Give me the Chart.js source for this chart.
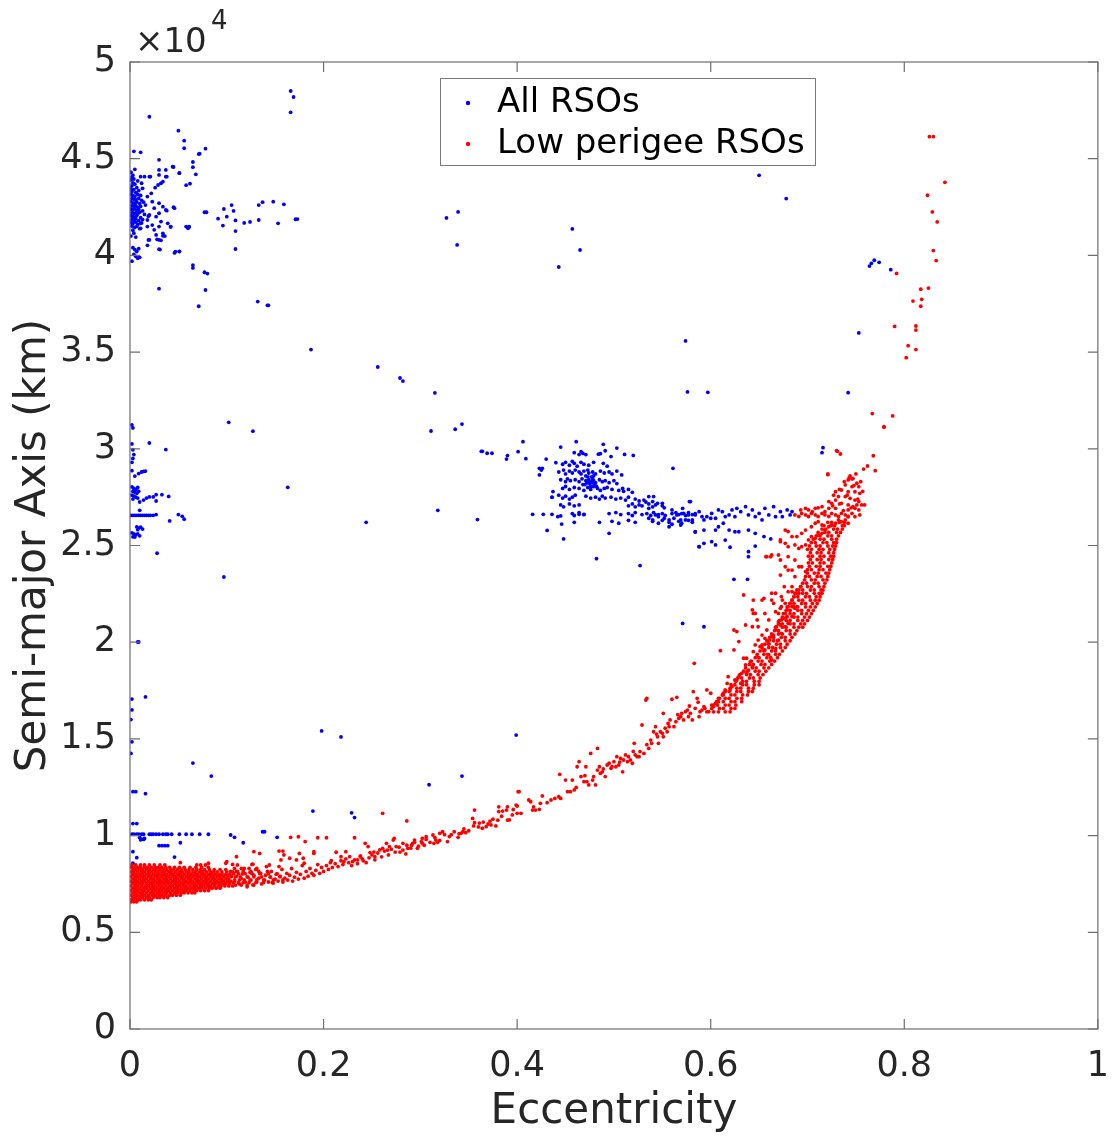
<!DOCTYPE html>
<html>
<head>
<meta charset="utf-8">
<script src="https://cdn.jsdelivr.net/npm/chart.js@4.4.1/dist/chart.umd.min.js"></script>
<style>
html,body{margin:0;padding:0;background:#fff;}
#c{display:block;}
</style>
</head>
<body>
<canvas id="c" width="1118" height="1137"></canvas>
<script>
// ---------------- DATA (eccentricity, semi-major axis in km) ----------------
const xTicks = [0, 0.2, 0.4, 0.6, 0.8, 1];
const yTicks = [0, 5000, 10000, 15000, 20000, 25000, 30000, 35000, 40000, 45000, 50000];
const seriesNames = ['All RSOs', 'Low perigee RSOs'];

// All RSOs: GEO region
const blueGeo = [
[0.001,43900],[0.003,43750],[0.002,43600],[0.005,43680],[0.001,43450],[0.004,43400],[0.007,43500],[0.002,43300],[0.006,43250],[0.009,43350],
[0.001,43150],[0.003,43100],[0.005,43050],[0.008,43150],[0.011,43100],[0.002,42950],[0.004,42900],[0.006,42880],[0.009,42950],[0.012,42850],
[0.001,42780],[0.003,42720],[0.005,42700],[0.007,42760],[0.010,42680],[0.014,42750],[0.002,42580],[0.004,42530],[0.006,42560],[0.008,42500],
[0.011,42540],[0.016,42600],[0.001,42400],[0.003,42350],[0.005,42420],[0.007,42330],[0.009,42380],[0.013,42300],[0.002,42220],[0.004,42164],
[0.006,42200],[0.008,42150],[0.010,42230],[0.015,42120],[0.001,42050],[0.003,42000],[0.005,41980],[0.007,42060],[0.011,41950],[0.019,42030],
[0.002,41870],[0.004,41820],[0.006,41900],[0.009,41800],[0.013,41850],[0.001,41700],[0.003,41650],[0.006,41720],[0.008,41600],[0.012,41680],
[0.002,41520],[0.005,41450],[0.007,41500],[0.010,41380],[0.003,41300],[0.004,41150],[0.001,41000],[0.006,40950],
[0.001,44300],[0.003,44150],[0.002,44050],[0.004,43950],[0.008,43850],
[0.005,44450],[0.011,44070],[0.015,44070],[0.021,44070],[0.030,44160],[0.030,44420],[0.037,44420],[0.037,44070],[0.034,43810],[0.029,43640],
[0.032,43730],[0.044,44590],[0.051,44250],[0.012,43730],[0.013,43470],[0.022,43210],[0.018,43040],[0.023,42780],[0.030,42700],[0.034,42520],
[0.025,42440],[0.037,42350],[0.046,42440],[0.030,42180],[0.020,42090],[0.027,42000],[0.018,41830],[0.011,41660],[0.023,41570],[0.032,41750],
[0.039,41660],[0.018,41490],[0.025,41320],[0.011,41400],[0.030,41490],[0.034,41140],[0.027,41060],[0.030,40800],[0.020,40800],[0.042,41490],
[0.060,41400],[0.061,41490],[0.030,40320],[0.047,40200],[0.051,40200],
[0.003,40400],[0.005,40300],[0.007,40200],[0.009,40350],[0.004,40050],[0.006,39950],[0.008,39850],[0.010,39900],[0.002,39700],
[0.166,48500],[0.169,48190],[0.166,47400],[0.020,47170],[0.050,46450],[0.056,45930],[0.056,45540],[0.004,45380],[0.011,45330],[0.078,45520],
[0.071,45240],[0.072,45260],[0.030,44940],[0.065,44830],[0.065,44560],[0.045,44570],[0.051,44260],[0.068,44190],[0.020,44070],[0.038,44070],
[0.026,43500],[0.058,43630],[0.062,43710],[0.097,42400],[0.105,42600],[0.107,42300],[0.100,42000],[0.133,42600],[0.137,42750],[0.148,42780],
[0.159,42640],[0.091,41900],[0.096,41540],[0.109,41810],[0.109,41260],[0.118,41680],[0.124,41730],[0.133,41830],[0.153,41660],[0.171,41870],
[0.173,41880],[0.077,42230],[0.079,42230],[0.058,41490],[0.061,41470],[0.109,40330],[0.045,42490],[0.038,42310],[0.042,41470],[0.034,41010],
[0.036,41000],[0.028,40830],[0.032,40780],[0.031,40300],[0.046,40130],[0.051,40210],[0.018,40520],[0.019,40800],[0.065,39500],[0.065,39350],
[0.077,39130],[0.080,39060],[0.030,38280],[0.078,38210],[0.071,37370],[0.132,37610],[0.142,37420],[0.143,37420],[0.187,35130]
];

// All RSOs: MEO / GPS / near-circular at low e
const blueLowE = [
[0.002,31230],[0.003,31080],[0.102,31370],[0.127,30910],[0.020,30300],[0.037,29960],[0.002,30250],[0.003,29950],[0.004,29700],[0.003,29500],
[0.002,29300],[0.002,28870],[0.005,28590],[0.009,28720],[0.012,28800],[0.014,28830],[0.016,28850],
[0.002,28030],[0.004,27950],[0.006,27900],[0.008,28000],[0.003,27800],[0.005,27750],[0.007,27700],[0.009,27800],[0.002,27600],[0.004,27550],
[0.006,27500],[0.003,27400],[0.008,27450],[0.010,27250],[0.014,27350],[0.017,27450],[0.020,27510],[0.024,27510],[0.027,27300],[0.027,27630],
[0.033,27630],[0.040,27540],[0.010,26820],
[0.001,26560],[0.003,26560],[0.005,26560],[0.007,26560],[0.009,26560],[0.011,26560],[0.013,26560],[0.015,26560],[0.017,26560],[0.019,26560],
[0.021,26560],[0.024,26560],[0.027,26600],[0.050,26600],[0.054,26510],[0.056,26360],[0.041,26270],
[0.007,25960],[0.009,25900],[0.011,25950],[0.013,25850],[0.008,25820],[0.002,25650],[0.004,25600],[0.006,25550],[0.008,25600],[0.010,25500],
[0.003,25450],[0.005,25440],[0.028,24600],[0.097,23370],[0.163,28010],[0.244,26200],[0.008,20010],[0.009,20010],[0.016,17170],[0.002,17060],
[0.001,16000],[0.002,14850],[0.001,14250],[0.002,16500],[0.065,13750],[0.084,13080],[0.198,15410],[0.218,15100],[0.399,15200],[0.343,13080],
[0.003,12270],[0.006,12270],[0.016,12170],[0.309,12630],[0.189,11270],[0.229,11180],[0.232,10930],[0.003,10620],[0.007,10620],
[0.002,10070],[0.004,10070],[0.007,10070],[0.009,10070],[0.012,10070],[0.014,10070],[0.020,10070],[0.022,10070],[0.024,10070],[0.027,10070],
[0.030,10070],[0.034,10070],[0.037,10070],[0.039,10070],[0.043,10070],[0.051,10070],[0.058,10070],[0.064,10070],[0.072,10070],[0.081,10070],
[0.104,10030],[0.108,9910],[0.137,10200],[0.139,10200],[0.152,9910],[0.117,9630],[0.010,9900],[0.012,9820],[0.014,9800],[0.015,9850],
[0.011,9780],[0.030,9480],[0.033,9480],[0.036,9480],[0.039,9480],[0.052,9630],[0.003,9170],[0.007,8860],[0.046,8890],[0.003,8570]
];

// All RSOs: Molniya / GTO band and scattered points
const blueHighE = [
[0.327,41940],[0.339,42250],[0.338,40540],[0.457,41370],[0.465,40280],[0.443,39400],[0.256,34230],[0.279,33660],[0.282,33500],[0.315,32890],
[0.311,30920],[0.336,31010],[0.343,31280],[0.363,29870],[0.364,29870],[0.369,29770],[0.374,29770],[0.389,29470],[0.390,29650],[0.401,29850],
[0.406,30370],[0.409,29490],[0.318,26820],[0.359,26340],[0.416,26610],[0.427,26610],[0.431,25780],[0.430,29470],[0.423,28990],[0.425,28900],
[0.423,28650],[0.426,28990],[0.440,29280],[0.445,30090],[0.461,30370],[0.489,30230],[0.503,30040],[0.511,29710],[0.520,29660],[0.448,25340],
[0.482,24320],[0.527,23960],[0.495,25630],[0.436,26610],[0.445,26530],[0.442,26490],[0.436,27490],[0.437,27790],[0.446,26110],[0.459,26200],
[0.464,26610],[0.469,26610],
[0.459,29800],[0.464,29700],[0.466,29850],[0.468,29760],[0.471,29700],[0.484,29720],[0.486,29750],[0.491,29900],[0.497,29600],
[0.447,29200],[0.450,29300],[0.454,29150],[0.457,29350],[0.459,29250],[0.462,29100],[0.466,29300],[0.469,29200],[0.474,29150],[0.479,29300],
[0.489,29250],[0.493,29100],
[0.443,28800],[0.448,28900],[0.450,28700],[0.454,28850],[0.457,28750],[0.460,28900],[0.464,28800],[0.466,28700],[0.469,28850],[0.473,28900],
[0.474,28750],[0.478,28800],[0.481,28700],[0.486,28850],[0.490,28750],[0.495,28800],[0.498,28700],[0.503,28850],[0.508,28650],
[0.445,28400],[0.450,28300],[0.452,28450],[0.455,28350],[0.460,28400],[0.464,28300],[0.467,28450],[0.471,28350],[0.473,28250],[0.474,28400],
[0.476,28300],[0.478,28450],[0.479,28350],[0.481,28250],[0.485,28400],[0.488,28300],[0.491,28350],[0.495,28250],[0.500,28350],[0.503,28200],
[0.447,27950],[0.450,28050],[0.454,27900],[0.459,28000],[0.464,27950],[0.469,27850],[0.473,28000],[0.476,27900],[0.479,28050],[0.483,27950],
[0.486,27850],[0.490,27950],[0.493,28000],[0.498,27900],[0.505,27850],[0.509,27950],[0.510,27800],[0.515,27900],[0.519,27750],
[0.436,27500],[0.443,27600],[0.447,27450],[0.450,27550],[0.454,27400],[0.457,27500],[0.460,27600],[0.471,27550],[0.476,27450],[0.481,27500],
[0.485,27400],[0.488,27550],[0.491,27450],[0.497,27500],[0.502,27400],[0.507,27450],[0.512,27350],[0.515,27500],[0.522,27400],[0.526,27300],
[0.531,27350],[0.533,27250],
[0.445,27100],[0.448,27000],[0.454,27150],[0.459,27050],[0.464,27100],[0.515,27050],[0.519,27150],[0.522,27000],[0.526,27100],[0.529,27050],
[0.536,27150],[0.540,27000],[0.543,27100],[0.550,27050],[0.552,26950],
[0.457,26650],[0.459,26550],[0.464,26700],[0.469,26600],[0.495,26650],[0.502,26700],[0.507,26600],[0.515,26650],[0.519,26550],[0.522,26700],
[0.529,26600],[0.534,26650],[0.538,26550],[0.541,26700],[0.546,26600],[0.550,26650],[0.553,26550],[0.560,26650],[0.564,26700],[0.567,26600],
[0.570,26650],[0.574,26550],[0.577,26700],[0.581,26600],[0.584,26650],
[0.485,26200],[0.498,26250],[0.505,26150],[0.515,26300],[0.522,26200],[0.540,26250],[0.546,26150],[0.550,26300],[0.557,26200],[0.560,26100],
[0.567,26250],[0.570,26150],[0.577,26300],[0.581,26200],[0.584,25700],[0.588,24940],[0.579,27270],
[0.475,28200],[0.472,28250],[0.478,28250],[0.480,28150],[0.470,28150],[0.476,28050],[0.473,28550],[0.477,28550],
[0.471,28600],[0.468,28150],[0.482,28050],[0.479,28600],
[0.561,28990],[0.536,27530],[0.541,27530],[0.540,27270],[0.545,27180],[0.550,27180],[0.536,26920],[0.543,26580],[0.546,26490],[0.552,26410],
[0.536,26410],[0.540,26320],[0.557,26320],[0.562,26410],[0.560,26840],[0.565,26580],[0.571,26920],[0.572,26660],[0.569,26320],[0.577,26580],
[0.578,27270],[0.574,26320],[0.581,26320],[0.584,26580],[0.588,26750],[0.591,26490],[0.593,26320],[0.596,26490],[0.600,26410],[0.601,26660],
[0.605,26410],[0.608,26840],[0.612,26750],[0.615,26490],[0.619,26580],[0.622,26840],[0.625,26490],[0.627,26920],[0.631,26750],[0.636,27010],
[0.639,26580],[0.643,26840],[0.646,26490],[0.650,26660],[0.653,26320],[0.656,26920],[0.660,26580],[0.665,27010],[0.667,26490],[0.672,26750],
[0.674,26490],[0.679,26840],[0.682,26580],[0.684,26750],
[0.557,25970],[0.569,26060],[0.584,25710],[0.593,25800],[0.605,25800],[0.608,25970],[0.613,26150],[0.619,25800],[0.625,25710],[0.629,25710],
[0.639,25800],[0.646,25630],[0.655,25460],[0.662,25340],[0.639,24680],[0.639,24420],[0.588,24940],[0.593,25110],[0.601,25200],[0.605,25030],
[0.615,25280],[0.620,24910],[0.624,23250],[0.638,23250],[0.571,20970],[0.593,20800],[0.646,24970],
[0.650,44140],[0.678,42940],[0.764,39450],[0.766,39590],[0.769,39750],[0.774,39640],[0.786,39260],[0.753,35990],[0.597,32920],[0.576,32940],
[0.742,32900],[0.716,30060],[0.715,29800],[0.574,35580]
];

// Low perigee RSOs: dense near-circular LEO core, rows of [semi-major axis, eccentricities]
const lowCoreRows = [
[8480,[0.002,0.006,0.011,0.015,0.020,0.025,0.031,0.036,0.069,0.073,0.078]],
[8360,[0.001,0.004,0.008,0.011,0.015,0.018,0.022,0.026,0.029,0.033,0.037,0.041,0.046,0.051,0.056,0.062,0.068,0.074,0.081]],
[8240,[0.003,0.006,0.010,0.013,0.017,0.020,0.024,0.027,0.031,0.035,0.038,0.042,0.045,0.049,0.053,0.057,0.061,0.065,0.069,0.073,0.077,0.082,0.087,0.093,0.099]],
[8120,[0.001,0.004,0.008,0.012,0.015,0.019,0.022,0.026,0.029,0.033,0.036,0.040,0.043,0.047,0.051,0.054,0.058,0.061,0.065,0.068,0.072,0.075,0.079,0.083,0.086,0.090,0.095,0.100,0.106]],
[8000,[0.003,0.006,0.010,0.013,0.017,0.020,0.024,0.028,0.031,0.035,0.038,0.042,0.045,0.049,0.052,0.056,0.060,0.063,0.067,0.070,0.074,0.077,0.081,0.084,0.088,0.092,0.095,0.099,0.103]],
[7880,[0.001,0.005,0.008,0.012,0.015,0.019,0.022,0.026,0.029,0.033,0.037,0.040,0.044,0.047,0.051,0.054,0.058,0.061,0.065,0.069,0.072,0.076,0.079,0.083,0.086,0.090,0.093,0.097,0.101,0.105]],
[7760,[0.003,0.006,0.010,0.014,0.017,0.021,0.024,0.028,0.031,0.035,0.038,0.042,0.046,0.049,0.053,0.056,0.060,0.063,0.067,0.070,0.074,0.078,0.081,0.085,0.088,0.092,0.095,0.099,0.102]],
[7640,[0.001,0.005,0.008,0.012,0.015,0.019,0.023,0.026,0.030,0.033,0.037,0.040,0.044,0.047,0.051,0.055,0.058,0.062,0.065,0.069,0.072,0.076,0.079,0.083,0.087,0.090,0.094,0.097,0.101,0.104]],
[7520,[0.003,0.006,0.010,0.013,0.017,0.021,0.024,0.028,0.031,0.035,0.039,0.042,0.046,0.049,0.053,0.056,0.060,0.064,0.067,0.071,0.074,0.078,0.081,0.085,0.088,0.092,0.096,0.099,0.103]],
[7400,[0.001,0.005,0.008,0.012,0.016,0.019,0.023,0.026,0.030,0.033,0.037,0.041,0.044,0.048,0.051,0.055,0.058,0.062,0.066,0.069,0.073,0.076,0.080,0.083,0.087,0.091,0.094,0.098,0.102]],
[7280,[0.003,0.006,0.010,0.014,0.017,0.021,0.024,0.028,0.032,0.035,0.039,0.042,0.046,0.049,0.053,0.057,0.060,0.064,0.067,0.071,0.074,0.078,0.082,0.085,0.089,0.093]],
[7160,[0.001,0.005,0.008,0.012,0.015,0.019,0.023,0.026,0.030,0.033,0.037,0.040,0.044,0.048,0.051,0.055,0.058,0.062,0.066,0.069,0.073,0.077,0.081]],
[7040,[0.003,0.006,0.010,0.013,0.017,0.021,0.024,0.028,0.031,0.035,0.038,0.042,0.046,0.049,0.053,0.056,0.060,0.064,0.067]],
[6920,[0.001,0.005,0.008,0.012,0.015,0.019,0.023,0.026,0.030,0.033,0.037,0.041,0.044,0.048,0.052]],
[6800,[0.003,0.006,0.010,0.013,0.017,0.020,0.024,0.028,0.031,0.035,0.039]],
[6680,[0.001,0.004,0.008,0.011,0.015,0.019,0.022]],
[6580,[0.001,0.004,0.007]],
// medium-density continuation, e 0.10 - 0.16
[8300,[0.108,0.115,0.123,0.131]],
[8150,[0.104,0.110,0.117,0.125,0.133,0.142]],
[8030,[0.107,0.112,0.119,0.126,0.134,0.143,0.152]],
[7870,[0.109,0.114,0.121,0.128,0.136,0.145,0.155]],
[7710,[0.108,0.113,0.118,0.124,0.131,0.139,0.148,0.158]],
[7570,[0.107,0.112,0.117,0.123,0.130,0.138,0.147]],
[7440,[0.109,0.115,0.121,0.128]]
];

// Low perigee RSOs: dense band e 0.60-0.74 (rows of [semi-major axis, eccentricities])
const lowKnotRows = [
[16400,[0.596,0.603,0.608,0.615,0.620]],
[16575,[0.601,0.609,0.613,0.621,0.625]],
[16750,[0.603,0.607,0.615,0.619,0.626]],
[16925,[0.608,0.613,0.621,0.625,0.632]],
[17100,[0.609,0.615,0.619,0.627,0.632]],
[17275,[0.613,0.621,0.625,0.633,0.638]],
[17450,[0.615,0.619,0.627,0.631,0.639,0.643]],
[17625,[0.620,0.627,0.631,0.639,0.644]],
[17800,[0.621,0.625,0.633,0.637,0.645,0.650]],
[17975,[0.626,0.633,0.637,0.645,0.650]],
[18150,[0.628,0.632,0.640,0.644,0.651]],
[18325,[0.630,0.637,0.641,0.649,0.654]],
[18500,[0.634,0.638,0.646,0.650,0.657]],
[18675,[0.636,0.643,0.647,0.655,0.660]],
[18850,[0.640,0.644,0.652,0.656,0.663]],
[19025,[0.642,0.649,0.653,0.661,0.666]],
[19200,[0.646,0.650,0.658,0.662,0.669]],
[19375,[0.648,0.655,0.659,0.667,0.671]],
[19550,[0.651,0.655,0.663,0.667,0.674]],
[19725,[0.653,0.660,0.664,0.672,0.677]],
[19900,[0.656,0.660,0.668,0.672,0.679]],
[20075,[0.658,0.665,0.669,0.677,0.682]],
[20250,[0.661,0.665,0.673,0.677,0.684]],
[20425,[0.663,0.670,0.674,0.682,0.687]],
[20600,[0.666,0.670,0.678,0.682,0.689]],
[20775,[0.667,0.674,0.678,0.686,0.691,0.695]],
[20950,[0.670,0.674,0.682,0.686,0.693,0.697]],
[21125,[0.671,0.678,0.682,0.690,0.695,0.700]],
[21300,[0.674,0.678,0.686,0.690,0.697,0.702]],
[21475,[0.675,0.682,0.686,0.694,0.699,0.704]],
[21650,[0.678,0.682,0.690,0.694,0.701,0.706]],
[21825,[0.679,0.686,0.690,0.698,0.703,0.708]],
[22000,[0.682,0.686,0.694,0.698,0.705,0.710]],
[22175,[0.684,0.691,0.695,0.703,0.708,0.712]],
[22350,[0.686,0.690,0.698,0.702,0.709,0.713]],
[22525,[0.688,0.695,0.699,0.707,0.712,0.715]],
[22700,[0.691,0.695,0.703,0.707,0.714,0.716]],
[22875,[0.693,0.700,0.704,0.712,0.717]],
[23050,[0.695,0.699,0.707,0.711,0.718]],
[23225,[0.697,0.704,0.708,0.716,0.720]],
[23400,[0.698,0.702,0.710,0.714,0.721]],
[23575,[0.700,0.707,0.711,0.719,0.722]],
[23750,[0.700,0.704,0.712,0.716,0.723]],
[23925,[0.702,0.709,0.713,0.721,0.724]],
[24100,[0.701,0.705,0.713,0.717,0.725]],
[24275,[0.703,0.710,0.714,0.722,0.726]],
[24450,[0.701,0.705,0.713,0.717,0.724,0.727]],
[24625,[0.703,0.710,0.714,0.722,0.727]],
[24800,[0.700,0.704,0.712,0.716,0.723,0.728]],
[24975,[0.702,0.709,0.713,0.721,0.726,0.729]],
[25150,[0.704,0.708,0.716,0.720,0.727,0.730]],
[25325,[0.706,0.713,0.717,0.725,0.730]],
[25500,[0.709,0.713,0.721,0.725,0.732]],
[25675,[0.711,0.718,0.722,0.730,0.734]],
[25850,[0.715,0.719,0.727,0.731,0.736]],
[26025,[0.717,0.724,0.728,0.736,0.738]],
[26200,[0.721,0.725,0.733,0.738]]
];

// Low perigee RSOs: e from 0.1 to 0.4
const lowMid = [
[0.106,7400],[0.108,7650],[0.110,7900],[0.111,8150],[0.113,7500],[0.115,7780],[0.116,8020],[0.118,8300],[0.119,7600],[0.121,7350],
[0.122,7850],[0.124,8100],[0.125,7700],[0.127,7450],[0.128,7950],[0.130,8250],[0.131,7600],[0.133,7800],[0.135,8050],[0.136,7500],
[0.138,7700],[0.140,7950],[0.141,8400],[0.143,7600],[0.145,7850],[0.146,8150],[0.148,7550],[0.150,7750],[0.151,8000],[0.153,7650],
[0.155,7900],[0.157,8250],[0.158,7600],[0.160,7800],[0.162,8050],[0.163,7700],[0.165,7950],[0.167,8300],[0.168,7650],[0.170,7850],
[0.172,8100],[0.174,7750],[0.176,8000],[0.178,8450],[0.180,7800],[0.182,8150],[0.184,7900],[0.186,8300],[0.188,8050],[0.190,7950],
[0.192,8200],[0.194,8500],[0.196,8050],[0.198,8350],[0.200,8150],[0.203,8450],[0.205,8250],[0.207,8600],[0.209,8350],[0.212,8550],
[0.215,8400],[0.218,8700],[0.220,8500],[0.223,8800],[0.226,8600],[0.229,8450],[0.232,8750],[0.235,8550],[0.238,8900],[0.241,8700],
[0.244,8600],[0.247,8850],[0.250,9000],[0.253,8750],[0.256,9100],[0.260,8900],[0.263,9200],[0.267,9000],[0.270,9300],[0.274,9150],
[0.278,9400],[0.282,9250],[0.286,9500],[0.290,9350],[0.294,9650],[0.298,9450],[0.302,9600],[0.306,9800],[0.310,9650],[0.315,9900],
[0.320,9750],[0.325,10050],[0.330,9950],[0.335,10200],[0.340,10100],[0.345,10350],[0.350,10250],[0.355,10500],[0.360,10450],[0.365,10700],
[0.370,10600],[0.375,10850],[0.380,10800],
[0.052,8600],[0.081,8570],[0.100,8650],[0.110,8910],[0.127,8520],[0.156,8740],[0.165,8830],[0.172,8740],[0.179,8830],[0.180,8570],
[0.128,9170],[0.134,9080],[0.154,9200],[0.158,9200],[0.166,9910],[0.174,9940],[0.181,9690],[0.194,9890],[0.203,9890],[0.190,9170],
[0.190,9080],[0.159,9000],[0.175,9080],[0.111,8480],[0.126,8510],[0.144,8480],[0.154,8400],[0.099,8570],[0.106,8510],
[0.213,9140],[0.218,8910],[0.223,9170],[0.227,8910],[0.230,8650],[0.235,8740],[0.238,8950],[0.243,9600],[0.246,9430],[0.248,9120],
[0.253,8910],[0.258,9260],[0.261,9340],[0.265,9600],[0.268,9430],[0.272,9770],[0.273,9860],[0.275,9430],[0.282,9600],[0.285,9050],
[0.287,9340],[0.292,9600],[0.297,9340],[0.294,9770],[0.301,9690],[0.302,9860],[0.306,9940],[0.313,10030],[0.314,9600],[0.316,9770],
[0.320,10120],[0.323,10200],[0.328,9690],[0.339,9910],[0.342,10120],[0.344,10200],[0.354,10890],[0.356,11320],[0.356,10670],[0.364,10380],
[0.368,10460],[0.373,10550],[0.378,10500],[0.381,11490],[0.381,11240],[0.385,11270],[0.389,11320],[0.390,11490],[0.392,10810],[0.395,11070],
[0.399,11580],[0.400,11150],[0.401,12270],[0.261,11150],[0.286,10760],[0.232,9890],
[0.208,8700],[0.221,8650],[0.240,8800],[0.252,9150],[0.266,9250],[0.279,9150],[0.291,9500],[0.304,9500],[0.318,9650],[0.332,10050],
[0.347,10150],[0.361,10650],[0.372,10750],[0.384,11000],[0.396,11350]
];

// Low perigee RSOs: e from 0.38 to 0.69
const lowCurve = [
[0.390,10805],[0.400,11530],[0.402,12270],[0.404,11150],[0.412,11840],[0.414,11750],[0.416,11320],[0.417,11490],[0.419,11320],[0.423,11360],
[0.424,11670],[0.426,12050],[0.431,11700],[0.435,11840],[0.439,11920],[0.443,12010],[0.444,13170],[0.445,11920],[0.450,12870],[0.452,12270],
[0.455,12270],[0.457,12870],[0.459,12360],[0.461,12490],[0.462,13560],[0.464,13820],[0.466,13050],[0.469,12790],[0.471,13560],[0.472,12790],
[0.474,12620],[0.476,14250],[0.478,12870],[0.479,13050],[0.481,12620],[0.483,14510],[0.483,13390],[0.485,13560],[0.486,13220],[0.488,13300],
[0.491,13050],[0.493,13650],[0.495,13740],[0.497,13480],[0.498,13560],[0.500,13820],[0.502,13560],[0.503,14080],[0.505,13650],[0.507,13990],
[0.509,13300],[0.510,13910],[0.512,14170],[0.514,13820],[0.515,14080],[0.517,13910],[0.519,13740],[0.521,14770],[0.522,14170],[0.524,14080],
[0.526,14080],[0.527,14340],[0.529,15720],[0.531,14250],[0.533,17010],[0.534,17100],[0.536,14510],[0.538,14940],[0.539,14770],[0.541,15370],
[0.543,15630],[0.545,15110],[0.546,14770],[0.548,15370],[0.550,15290],[0.551,16320],[0.551,15110],[0.553,15550],[0.555,15370],[0.557,15630],
[0.558,15980],[0.560,17050],[0.562,15630],[0.564,15890],[0.565,17150],[0.567,16060],[0.569,16150],[0.570,16320],[0.572,15980],[0.574,16410],
[0.576,16490],[0.577,16150],[0.579,16320],[0.581,15980],[0.582,17440],[0.584,16580],[0.586,17100],[0.588,16150],[0.589,16410],[0.591,16490],
[0.593,16670],[0.594,16580],[0.596,17530],[0.598,16410],[0.600,17360],[0.601,16750],[0.603,16670],[0.605,16840],[0.606,16920],[0.608,17100],
[0.610,19560],[0.612,17270],[0.613,17360],[0.615,17530],[0.617,17870],[0.618,18220],[0.620,17530],[0.622,17700],[0.624,19600],[0.625,18050],
[0.627,18050],[0.629,18220],[0.631,17870],[0.632,18390],[0.634,19170],[0.636,18820],[0.637,18390],[0.639,18560],[0.641,18990],[0.643,18740],
[0.644,19510],[0.646,19860],[0.648,19250],[0.649,20110],[0.651,19770],[0.653,19860],[0.655,19600],[0.656,20200],[0.658,20630],[0.660,19940],
[0.661,20110],[0.663,20290],[0.665,20370],[0.667,20630],[0.668,20800],[0.670,21060],[0.672,20890],[0.673,21150],[0.675,21230],[0.677,21490],
[0.679,21670],[0.680,21840],[0.682,22010],[0.684,22180],[0.686,22360],[0.687,22530],[0.689,22700],
[0.583,18910],[0.634,22440],[0.644,22180],[0.644,21490],[0.646,21490],[0.624,20630],[0.627,20550],[0.636,20890],[0.643,20800],[0.629,20030],
[0.637,19170],[0.649,20800],[0.653,20370],[0.656,19600],[0.660,19340],[0.663,19080],[0.667,19680],[0.670,20110],[0.673,20460],[0.677,20800],
[0.680,20980],[0.684,21320],[0.687,21750],[0.663,22180],[0.667,22530],[0.673,22360],[0.677,22010],[0.680,22610],[0.684,22870],[0.689,21840],
[0.670,21490],[0.673,21840],[0.660,21150],[0.656,21490],[0.643,21670],[0.648,21150],[0.693,22870],[0.691,22530],
[0.470,13100],[0.489,13450],[0.506,13800],[0.520,14350],[0.534,14700],[0.544,15250],[0.556,15800],[0.566,16250],[0.578,16700],[0.587,16900]
];

// Low perigee RSOs: e from 0.65 to 0.85
const lowHigh = [
[0.687,26580],[0.691,26500],[0.694,26660],[0.698,26580],[0.701,26500],[0.704,26660],[0.708,26580],[0.711,26500],[0.715,26660],[0.718,26580],
[0.722,26500],[0.725,26660],[0.729,26580],[0.732,26500],[0.735,26660],[0.739,26580],[0.742,26500],[0.746,26660],
[0.742,28390],[0.747,28470],[0.751,28220],[0.753,28040],[0.746,28040],[0.739,28130],[0.735,27870],[0.742,27780],[0.749,27780],[0.754,27700],
[0.729,27780],[0.732,27530],[0.739,27530],[0.744,27440],[0.749,27350],[0.753,27270],[0.722,27270],[0.725,27180],[0.735,27180],[0.742,27100],
[0.747,27010],[0.751,27100],[0.756,27100],[0.715,27010],[0.708,26920],[0.698,26920],[0.701,26840],[0.693,26840],[0.722,26920],[0.729,26920],
[0.742,26840],[0.749,26920],[0.753,26840],[0.742,26490],[0.749,26490],[0.754,26580],[0.759,27100],[0.721,28700],
[0.727,27600],[0.733,27900],[0.738,28300],[0.744,28600],[0.748,28100],[0.752,27400],[0.745,26950],[0.737,26800],[0.726,27050],[0.718,26750],
[0.705,26750],[0.711,26950],[0.757,27800],[0.755,28300],[0.750,28700],[0.741,27600],[0.733,27150],[0.729,27350],
[0.677,25800],[0.672,25200],[0.677,25110],[0.680,24940],[0.687,25030],[0.691,24850],[0.694,24940],[0.698,25030],[0.701,25290],[0.704,25460],
[0.708,25370],[0.711,25540],[0.715,25630],[0.718,25800],[0.722,25970],[0.725,26060],[0.729,26150],[0.732,26320],[0.735,26230],[0.739,26320],
[0.742,26150],[0.698,25800],[0.694,25630],[0.689,25460],[0.704,25970],[0.708,26150],[0.711,26230],[0.715,26060],
[0.658,24420],[0.663,24510],[0.672,24250],[0.680,24420],[0.687,24250],[0.694,23900],[0.684,23730],[0.698,23650],[0.687,23390],
[0.680,25720],[0.684,25460],[0.672,25290],[0.662,24420],[0.657,24420],[0.670,24510],[0.677,23900],[0.691,23900],[0.680,23730],
[0.672,23470],[0.663,22530],[0.653,22180],[0.676,22870],[0.684,22610],[0.674,22180],[0.665,22010],[0.684,21840],[0.672,21750],[0.679,21320],
[0.667,21580],[0.655,22270],
[0.826,46140],[0.830,46140],[0.842,43780],[0.824,43110],[0.829,42250],[0.834,41730],[0.830,40250],[0.833,39730],[0.792,39070],[0.817,38250],
[0.825,38310],[0.809,37640],[0.818,37730],[0.817,37370],[0.790,36330],[0.812,36350],[0.812,36140],[0.804,35330],[0.812,35130],[0.802,34710],
[0.767,31820],[0.788,31700],[0.779,31110],[0.730,29900],[0.731,29870],[0.734,29730],[0.768,29640],[0.762,29110],[0.758,28950],[0.770,28870],
[0.721,28660],[0.743,28490],[0.746,28440],[0.779,31150]
];

// ---------------- build datasets ----------------
const pairsToPts = arr => arr.map(p => ({x: p[0], y: p[1]}));
const rowsToPts = rows => {
  const out = [];
  rows.forEach(row => row[1].forEach(e => out.push({x: e, y: row[0]})));
  return out;
};
const allRSOs = [].concat(pairsToPts(blueGeo), pairsToPts(blueLowE), pairsToPts(blueHighE));
const lowPerigee = [].concat(rowsToPts(lowCoreRows), rowsToPts(lowKnotRows), pairsToPts(lowMid), pairsToPts(lowCurve), pairsToPts(lowHigh));

const BLUE = '#0000ff', RED = '#ff0000', AX = '#262626';
const FONT = "'DejaVu Sans', sans-serif";

const frame = {
  id: 'frame',
  afterDraw(chart) {
    const {ctx, chartArea: a, scales: {x, y}} = chart;
    ctx.save();
    ctx.strokeStyle = '#6e6e6e';
    ctx.lineWidth = 1.2;
    ctx.strokeRect(a.left, a.top, a.right - a.left, a.bottom - a.top);
    ctx.beginPath();
    const tl = 10;
    xTicks.forEach(v => {
      const px = x.getPixelForValue(v);
      ctx.moveTo(px, a.bottom); ctx.lineTo(px, a.bottom - tl);
      ctx.moveTo(px, a.top); ctx.lineTo(px, a.top + tl);
    });
    yTicks.forEach(v => {
      const py = y.getPixelForValue(v);
      ctx.moveTo(a.left, py); ctx.lineTo(a.left + tl, py);
      ctx.moveTo(a.right, py); ctx.lineTo(a.right - tl, py);
    });
    ctx.stroke();
    // exponent label
    ctx.fillStyle = AX;
    ctx.textBaseline = 'alphabetic';
    ctx.textAlign = 'left';
    ctx.font = '34px ' + FONT;
    ctx.fillText('\u00d710', a.left + 5, a.top - 10);
    ctx.font = '26px ' + FONT;
    ctx.fillText('4', a.left + 81, a.top - 33);
    // legend
    const lx = 440, ly = 78, lw = 375, lh = 87;
    ctx.fillStyle = '#ffffff';
    ctx.fillRect(lx, ly, lw, lh);
    ctx.strokeStyle = '#7a7a7a';
    ctx.lineWidth = 1;
    ctx.strokeRect(lx + 0.5, ly + 0.5, lw, lh);
    const items = [[seriesNames[0], BLUE, ly + 25], [seriesNames[1], RED, ly + 66]];
    ctx.font = '34px ' + FONT;
    ctx.textBaseline = 'middle';
    items.forEach(([t, c, yy]) => {
      ctx.fillStyle = c;
      ctx.beginPath(); ctx.arc(lx + 28, yy, 2.2, 0, Math.PI * 2); ctx.fill();
      ctx.fillStyle = '#000000';
      ctx.fillText(t, lx + 57, yy);
    });
    ctx.restore();
  }
};

new Chart(document.getElementById('c'), {
  type: 'scatter',
  data: {
    datasets: [
      {label: seriesNames[1], data: lowPerigee, backgroundColor: RED, borderWidth: 0, pointRadius: 1.9, pointHoverRadius: 1.9},
      {label: seriesNames[0], data: allRSOs, backgroundColor: BLUE, borderWidth: 0, pointRadius: 1.9, pointHoverRadius: 1.9}
    ]
  },
  options: {
    responsive: false,
    animation: false,
    devicePixelRatio: 1,
    layout: {padding: {left: 0, right: 18, top: 62, bottom: 0}},
    plugins: {legend: {display: false}, tooltip: {enabled: false}},
    scales: {
      x: {
        type: 'linear', min: 0, max: 1,
        afterBuildTicks: s => { s.ticks = xTicks.map(v => ({value: v})); },
        ticks: {color: AX, font: {family: FONT, size: 35}, padding: 9, maxRotation: 0,
                callback: v => String(Number(v.toFixed(1)))},
        grid: {display: false}, border: {display: false},
        title: {display: true, text: 'Eccentricity', color: AX, font: {family: FONT, size: 42}, padding: {top: 0, bottom: 0}},
        afterFit: s => { s.height = 108; }
      },
      y: {
        type: 'linear', min: 0, max: 50000,
        afterBuildTicks: s => { s.ticks = yTicks.map(v => ({value: v})); },
        ticks: {color: AX, font: {family: FONT, size: 35}, padding: 6,
                callback: v => String(Number((v / 10000).toFixed(1)))},
        grid: {display: false}, border: {display: false},
        title: {display: true, text: 'Semi-major Axis (km)', color: AX, font: {family: FONT, size: 42}, padding: {top: 9, bottom: 0}},
        afterFit: s => { s.width = 130; }
      }
    }
  },
  plugins: [frame]
});
</script>
</body>
</html>
